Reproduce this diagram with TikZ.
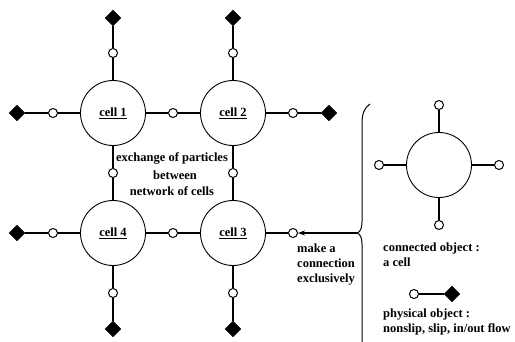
\documentclass[tikz,border=0pt]{standalone}
\usepackage{fontspec}
\setmainfont{Liberation Serif}
\usetikzlibrary{shapes.geometric,arrows.meta}
\tikzset{
  cellnode/.style={circle,draw,line width=0.9pt,minimum size=65pt,inner sep=0pt,fill=white},
  port/.style={circle,draw,line width=1pt,minimum size=9pt,inner sep=0pt,fill=white},
  phys/.style={diamond,fill=black,draw=black,minimum width=16pt,minimum height=16pt,inner sep=0pt},
  conn/.style={line width=1.2pt},
  lbl/.style={font=\fontsize{12.5}{15}\selectfont\bfseries,inner sep=0pt},
}
\begin{document}
\begin{tikzpicture}[x=1pt,y=-1pt]
\useasboundingbox (0,0) rectangle (515,342);
% cells
\node[cellnode,lbl] (c1) at (113,113) {\underline{cell 1}};
\node[cellnode,lbl] (c2) at (233,113) {\underline{cell 2}};
\node[cellnode,lbl] (c3) at (233,233) {\underline{cell 3}};
\node[cellnode,lbl] (c4) at (113,233) {\underline{cell 4}};
% ports
\node[port] (p1t) at (113,53) {};
\node[port] (p1l) at (53,113) {};
\node[port] (p12) at (173,113) {};
\node[port] (p2t) at (233,53) {};
\node[port] (p2r) at (293,113) {};
\node[port] (p14) at (113,173) {};
\node[port] (p23) at (233,173) {};
\node[port] (p4l) at (53,233) {};
\node[port] (p43) at (173,233) {};
\node[port] (p4b) at (113,293) {};
\node[port] (p3b) at (233,293) {};
\node[port] (p3r) at (293,233) {};
% physical objects
\node[phys] (d1t) at (113,18) {};
\node[phys] (d1l) at (17,113) {};
\node[phys] (d2t) at (233,18) {};
\node[phys] (d2r) at (329,113) {};
\node[phys] (d4l) at (17,233) {};
\node[phys] (d4b) at (113,329) {};
\node[phys] (d3b) at (233,329) {};
% connectors
\draw[conn] (c1) -- (p1t) -- (d1t);
\draw[conn] (c1) -- (p1l) -- (d1l);
\draw[conn] (c1) -- (p12) -- (c2);
\draw[conn] (c2) -- (p2t) -- (d2t);
\draw[conn] (c2) -- (p2r) -- (d2r);
\draw[conn] (c1) -- (p14) -- (c4);
\draw[conn] (c2) -- (p23) -- (c3);
\draw[conn] (c4) -- (p4l) -- (d4l);
\draw[conn] (c4) -- (p43) -- (c3);
\draw[conn] (c4) -- (p4b) -- (d4b);
\draw[conn] (c3) -- (p3b) -- (d3b);
\draw[conn] (c3) -- (p3r);
% middle text
\node[lbl] (t1) at (172,158) {exchange of particles};
\node[lbl] (t2) at (175,175) {between};
\node[lbl] (t3) at (172,191) {network of cells};
% brace
\coordinate (btip) at (357,233);
\begin{scope}
\clip (0,0) rectangle (515,342);
\draw[line width=1pt] (370,104) .. controls (364,108) and (362,114) .. (362,124)
  -- (362,222) .. controls (362,229) and (360,232) .. (btip)
  .. controls (360,234) and (362,237) .. (362,244) -- (362,350);
\end{scope}
\draw[line width=1.4pt,-{Stealth[length=7pt,width=5pt]}] (btip) -- (p3r);
\node[lbl,anchor=west,align=left] (t4) at (297,265) {make a\\connection\\exclusively};
% legend cell
\node[cellnode] (lc) at (439,165) {};
\node[port] (lt) at (439,105) {};
\node[port] (lb) at (439,225) {};
\node[port] (ll) at (379,165) {};
\node[port] (lr) at (499,165) {};
\draw[conn] (lc) -- (lt);
\draw[conn] (lc) -- (lb);
\draw[conn] (lc) -- (ll);
\draw[conn] (lc) -- (lr);
\node[lbl,anchor=west,align=left] (t5) at (383,254.5) {connected object :\\a cell};
% legend physical
\node[port] (lp) at (414,294) {};
\node[phys] (ld) at (452,294) {};
\draw[conn] (lp) -- (ld);
\node[lbl,anchor=west,align=left] (t6) at (383,321.5) {physical object :\\nonslip, slip, in/out flow};
\end{tikzpicture}
\end{document}
